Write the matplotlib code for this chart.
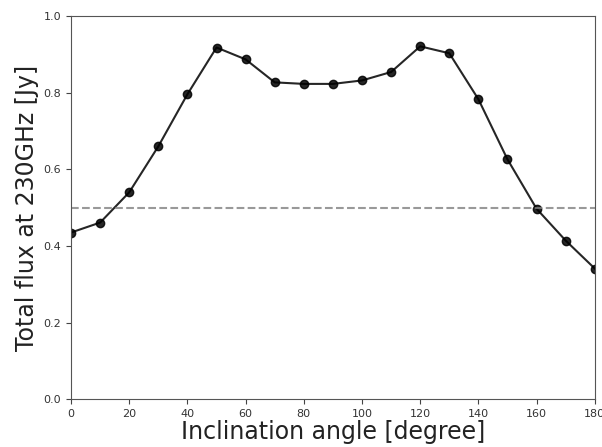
import matplotlib
matplotlib.use("Agg")
import matplotlib.pyplot as plt

angles = [0, 10, 20, 30, 40, 50, 60, 70, 80, 90, 100, 110, 120, 130, 140, 150, 160, 170, 180]
flux = [0.435, 0.461, 0.540, 0.660, 0.796, 0.918, 0.887, 0.827, 0.823, 0.823, 0.832, 0.854, 0.921, 0.903, 0.783, 0.626, 0.497, 0.414, 0.341]
ref_level = 0.5

fig = plt.figure(figsize=(6.02, 4.47), dpi=100)
ax = fig.add_axes([0.118, 0.107, 0.870, 0.857])
ax.plot(angles, flux, color='black', marker='o', markersize=6, linewidth=1.5, alpha=0.85)
ax.axhline(ref_level, color='gray', linestyle='--', linewidth=1.5, alpha=0.8)
ax.set_xlim(0, 180)
ax.set_ylim(0, 1.0)
ax.set_xticks(range(0, 181, 20))
ax.set_yticks([0.0, 0.2, 0.4, 0.6, 0.8, 1.0])
ax.tick_params(labelsize=8, color='#444444', labelcolor='#333333')
for s in ax.spines.values():
    s.set_color('#555555')
ax.set_xlabel('Inclination angle [degree]', fontsize=17, color='#222222', labelpad=1)
ax.set_ylabel('Total flux at 230GHz [Jy]', fontsize=17, color='#222222', labelpad=3)
fig.savefig('out.png', dpi=100)
